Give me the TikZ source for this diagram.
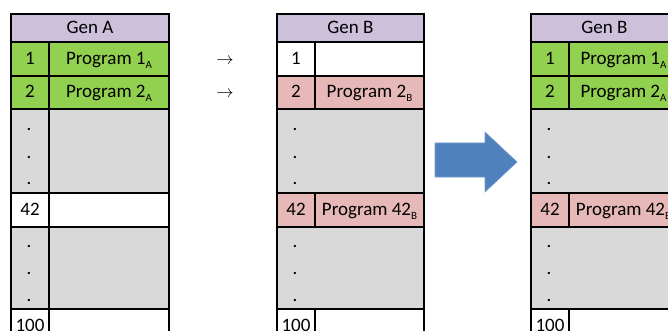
\documentclass[tikz,border=0pt]{standalone}
\usepackage{fontspec}
\setmainfont{Carlito}
\definecolor{lilas}{HTML}{CCC0DA}
\definecolor{verde}{HTML}{92D050}
\definecolor{rosa}{HTML}{E6B8B7}
\definecolor{cinza}{HTML}{D9D9D9}
\definecolor{azul}{HTML}{4F81BD}
% indice do programa (subscrito)
\newcommand{\subgen}[1]{\raisebox{-4pt}{\fontsize{11}{11}\selectfont #1}}
\begin{document}
\begin{tikzpicture}[
    x=1pt, y=-1pt,
    % Celulas da tabela
    cel/.style={
        draw, line width=2pt, anchor=north west, inner sep=0pt,
        font=\fontsize{19}{22}\selectfont,
        text height=13pt, text depth=2pt
    },
    cab/.style={cel, fill=lilas, minimum height=28pt},
    num/.style={cel, minimum width=38pt},
    progA/.style={cel, minimum width=120pt},
    progB/.style={cel, minimum width=109pt},
    linha/.style={cel, minimum width=147pt},
    % Pontos de continuacao
    ponto/.style={inner sep=0pt, font=\fontsize{19}{22}\selectfont},
    % Setas
    setinha/.style={inner sep=0pt, font=\fontsize{17}{17}\selectfont},
    setao/.style={fill=azul, draw=azul!80!white, line width=0.6pt}
]
\useasboundingbox (0,0) rectangle (668,331);
\clip (0,0) rectangle (668,331);

% ---- GEN A ----
\node[cab, minimum width=158pt] (a0) at (10,13) {Gen A};
\node[num,   fill=verde, minimum height=34pt] (a1n) at (10,41)  {1};
\node[progA, fill=verde, minimum height=34pt] (a1p) at (48,41)  {Program 1\subgen{A}};
\node[num,   fill=verde, minimum height=33pt] (a2n) at (10,75)  {2};
\node[progA, fill=verde, minimum height=33pt] (a2p) at (48,75)  {Program 2\subgen{A}};
\node[num,   fill=cinza, minimum height=84pt] (a3n) at (10,108) {};
\node[progA, fill=cinza, minimum height=84pt] (a3p) at (48,108) {};
\node[num,   fill=white, minimum height=34pt] (a4n) at (10,192) {42};
\node[progA, fill=white, minimum height=34pt] (a4p) at (48,192) {};
\node[num,   fill=cinza, minimum height=82pt] (a5n) at (10,226) {};
\node[progA, fill=cinza, minimum height=82pt] (a5p) at (48,226) {};
\node[num,   fill=white, minimum height=34pt] (a6n) at (10,308) {100};
\node[progA, fill=white, minimum height=34pt] (a6p) at (48,308) {};

\foreach \y in {129,157,183,246,273,300}
    \node[ponto] (pa\y) at (29,\y) {.};

% ---- SETAS DE COPIA ----
\node[setinha] (s1) at (225,61) {$\rightarrow$};
\node[setinha] (s2) at (225,94) {$\rightarrow$};

% ---- GEN B (mutacao) ----
\node[cab, minimum width=147pt] (b0) at (276,13) {Gen B};
\node[num,   fill=white, minimum height=34pt] (b1n) at (276,41)  {1};
\node[progB, fill=white, minimum height=34pt] (b1p) at (314,41)  {};
\node[num,   fill=rosa,  minimum height=33pt] (b2n) at (276,75)  {2};
\node[progB, fill=rosa,  minimum height=33pt] (b2p) at (314,75)  {Program 2\subgen{B}};
\node[linha, fill=cinza, minimum height=84pt] (b3)  at (276,108) {};
\node[num,   fill=rosa,  minimum height=34pt] (b4n) at (276,192) {42};
\node[progB, fill=rosa,  minimum height=34pt] (b4p) at (314,192) {Program 42\subgen{B}};
\node[linha, fill=cinza, minimum height=82pt] (b5)  at (276,226) {};
\node[num,   fill=white, minimum height=34pt] (b6n) at (276,308) {100};
\node[progB, fill=white, minimum height=34pt] (b6p) at (314,308) {};

\foreach \y in {129,157,183,246,273,300}
    \node[ponto] (pb\y) at (295,\y) {.};

% ---- SETA GRANDE ----
\fill[setao] (435,143) -- (485,143) -- (485,132) -- (517,162)
    -- (485,192) -- (485,177) -- (435,177) -- cycle;

% ---- GEN B (resultado) ----
\node[cab, minimum width=147pt] (c0) at (530,13) {Gen B};
\node[num,   fill=verde, minimum height=34pt] (c1n) at (530,41)  {1};
\node[progB, fill=verde, minimum height=34pt] (c1p) at (568,41)  {Program 1\subgen{A}};
\node[num,   fill=verde, minimum height=33pt] (c2n) at (530,75)  {2};
\node[progB, fill=verde, minimum height=33pt] (c2p) at (568,75)  {Program 2\subgen{A}};
\node[linha, fill=cinza, minimum height=84pt] (c3)  at (530,108) {};
\node[num,   fill=rosa,  minimum height=34pt] (c4n) at (530,192) {42};
\node[progB, fill=rosa,  minimum height=34pt] (c4p) at (568,192) {Program 42\subgen{B}};
\node[linha, fill=cinza, minimum height=82pt] (c5)  at (530,226) {};
\node[num,   fill=white, minimum height=34pt] (c6n) at (530,308) {100};
\node[progB, fill=white, minimum height=34pt] (c6p) at (568,308) {};

\foreach \y in {129,157,183,246,273,300}
    \node[ponto] (pc\y) at (549,\y) {.};

\end{tikzpicture}
\end{document}
